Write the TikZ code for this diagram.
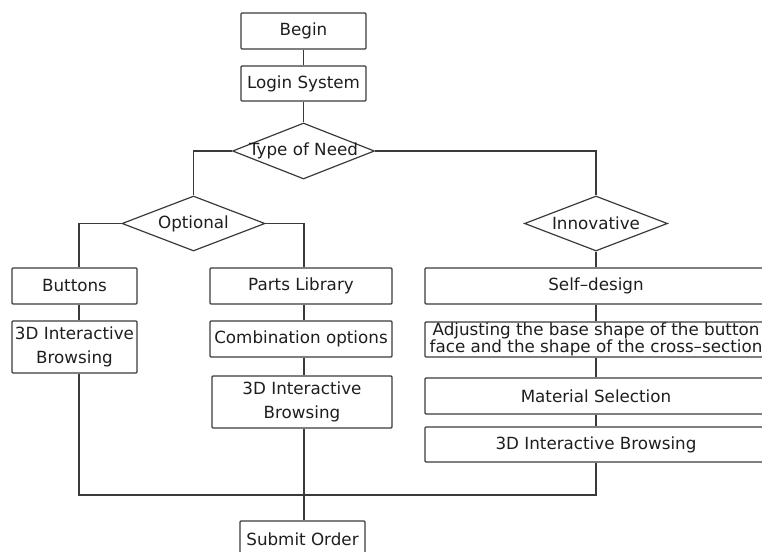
\documentclass[tikz,border=0pt]{standalone}
\usepackage{fontspec}
\setmainfont{DejaVu Sans}
\usetikzlibrary{shapes.geometric}
\definecolor{ink}{HTML}{3A3A3A}
\definecolor{lettering}{HTML}{1E1E1E}
\newcommand{\boxfont}{\fontsize{16.8}{24.5}\selectfont}
\tikzset{
  flow/.style={draw=ink, line width=1.2bp},
  stepbox/.style={flow, rectangle, rounded corners=1bp, inner sep=0pt,
    align=center, font=\boxfont, text=lettering},
  choice/.style={flow, diamond, inner sep=0pt, shape aspect=2.5},
  choicetext/.style={font=\boxfont, text=lettering},
  link/.style={flow}
}
\begin{document}
\begin{tikzpicture}[x=1bp,y=-1bp]
\useasboundingbox (0,0) rectangle (762,552);
\clip (0,0) rectangle (762,552);

% columns and the collecting bus
\coordinate (cl) at (79,0);
\coordinate (cm) at (304,0);
\coordinate (cr) at (596,0);
\coordinate (bus) at (0,495);

% main stem
\node[stepbox, minimum width=125bp, minimum height=36bp] (begin) at (303.5,31) {Begin};
\node[stepbox, minimum width=125bp, minimum height=35bp] (login) at (303.5,83.5) {Login System};
\node[choice, minimum width=142bp, minimum height=56bp,
      label={[choicetext]center:Type of Need}] (need) at (303.5,151) {};

% the two kinds of need
\node[choice, minimum width=143bp, minimum height=55bp,
      label={[choicetext]center:Optional}] (optional) at (193.5,223.5) {};
\node[choice, minimum width=143bp, minimum height=55bp,
      label={[choicetext]center:Innovative}] (innov) at (596,223.5) {};

% optional: buttons
\node[stepbox, minimum width=125bp, minimum height=36bp] (buttons) at (74.5,286) {Buttons};
\node[stepbox, minimum width=125bp, minimum height=52bp] (b3d) at (74.5,347) {3D Interactive\\Browsing};

% optional: parts library
\node[stepbox, minimum width=182bp, minimum height=36bp] (parts) at (301,286) {Parts Library};
\node[stepbox, minimum width=182bp, minimum height=36bp] (combo) at (301,339) {Combination options};
\node[stepbox, minimum width=180bp, minimum height=52bp] (p3d) at (302,402) {3D Interactive\\Browsing};

% innovative: self-design
\node[stepbox, minimum width=342bp, minimum height=36bp] (self) at (596,286) {Self–design};
\node[stepbox, minimum width=342bp, minimum height=35bp, font=\fontsize{16.8}{16.5}\selectfont] (adjust) at (596,339.5)
  {Adjusting the base shape of the button\\face and the shape of the cross–section};
\node[stepbox, minimum width=342bp, minimum height=36bp] (material) at (596,396) {Material Selection};
\node[stepbox, minimum width=342bp, minimum height=35bp] (r3d) at (596,444.5) {3D Interactive Browsing};

% end
\node[stepbox, minimum width=125bp, minimum height=36bp] (submit) at (302.5,539) {Submit Order};

% connectors
\draw[link] (begin) -- (login);
\draw[link] (login) -- (need);
\draw[link] (need.west) -| (optional.north);
\draw[link] (need.east) -| (innov.north);
\draw[link] (optional.west) -| (buttons.north -| cl);
\draw[link] (optional.east) -| (parts.north -| cm);
\draw[link] (buttons.south -| cl) -- (b3d.north -| cl);
\draw[link] (parts.south -| cm) -- (combo.north -| cm);
\draw[link] (combo.south -| cm) -- (p3d.north -| cm);
\draw[link] (innov.south) -- (self.north -| cr);
\draw[link] (self.south -| cr) -- (adjust.north -| cr);
\draw[link] (adjust.south -| cr) -- (material.north -| cr);
\draw[link] (material.south -| cr) -- (r3d.north -| cr);
\draw[link] (b3d.south -| cl) -- (cl |- bus) -- (cr |- bus) -- (r3d.south -| cr);
\draw[link] (p3d.south -| cm) -- (submit.north -| cm);
\end{tikzpicture}
\end{document}
